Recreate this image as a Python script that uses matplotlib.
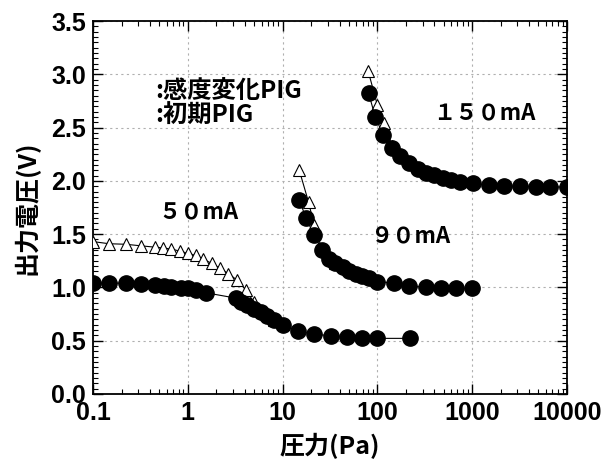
import numpy as np
import matplotlib.pyplot as plt
from matplotlib.ticker import MultipleLocator, LogLocator, FixedLocator, NullFormatter, FormatStrFormatter, FixedFormatter

# 50mA
p50_c = [0.1, 0.148, 0.221, 0.324, 0.448, 0.56, 0.67, 0.84, 1.0, 1.22, 1.55,
         3.2, 3.6, 4.2, 5.0, 5.9, 6.9, 8.1, 10.0, 14.5, 21.5, 32.5, 48, 68, 100, 220]
v50_c = [1.04, 1.04, 1.04, 1.035, 1.02, 1.01, 1.005, 0.995, 0.99, 0.975, 0.95,
         0.90, 0.865, 0.835, 0.80, 0.766, 0.734, 0.69, 0.65, 0.59, 0.56, 0.547, 0.537, 0.528, 0.522, 0.522]
p50_t = [0.1, 0.148, 0.221, 0.324, 0.448, 0.553, 0.672, 0.83, 1.0, 1.22, 1.46,
         1.79, 2.19, 2.67, 3.3, 4.1, 5.0, 6.0, 7.0, 8.2, 10.0]
v50_t = [1.43, 1.41, 1.405, 1.39, 1.378, 1.37, 1.36, 1.34, 1.32, 1.30, 1.265,
         1.225, 1.18, 1.13, 1.07, 0.975, 0.86, 0.78, 0.73, 0.69, 0.66]

# 90mA
p90_c = [15, 17.7, 21.5, 26, 31, 36, 43, 50, 59, 69, 81, 100, 150, 215, 325, 470, 680, 1000]
v90_c = [1.82, 1.65, 1.49, 1.35, 1.27, 1.225, 1.19, 1.155, 1.13, 1.107, 1.085, 1.055,
         1.04, 1.015, 1.0, 0.997, 0.99, 0.99]
p90_t = [15, 18.8, 21.5, 26, 31, 36]
v90_t = [2.10, 1.80, 1.585, 1.36, 1.28, 1.23]

# 150mA
p150_c = [81, 95, 115, 143, 175, 216, 266, 326, 400, 490, 600, 735, 1010,
          1490, 2180, 3200, 4700, 6700, 10000]
v150_c = [2.82, 2.60, 2.43, 2.31, 2.23, 2.165, 2.11, 2.075, 2.054, 2.03, 2.01, 1.99, 1.977,
          1.96, 1.95, 1.95, 1.945, 1.945, 1.94]
p150_t = [80, 100, 117, 143, 175]
v150_t = [3.03, 2.71, 2.545, 2.33, 2.24]

x_ticks = [0.1, 1, 10, 100, 1000, 10000]
x_labels = ['0.1', '1', '10', '100', '1000', '10000']

cjk = ['Noto Sans CJK JP', 'DejaVu Sans']
plt.rcParams['font.family'] = ['Liberation Sans', 'DejaVu Sans']

fig = plt.figure(figsize=(6.01, 4.71), dpi=100)
ax = fig.add_axes([0.1547, 0.1635, 0.7887, 0.7919])

for p, v in [(p50_t, v50_t), (p90_t, v90_t), (p150_t, v150_t)]:
    ax.plot(p, v, color='black', lw=0.8, marker='^', ms=9, mfc='white',
            mec='black', mew=0.8, zorder=3)
for p, v in [(p50_c, v50_c), (p90_c, v90_c), (p150_c, v150_c)]:
    ax.plot(p, v, color='black', lw=0.8, marker='o', ms=11, mfc='black',
            mec='black', zorder=4)

ax.set_xscale('log')
ax.set_xlim(0.1, 10000)
ax.set_ylim(0, 3.5)
ax.yaxis.set_major_locator(MultipleLocator(0.5))
ax.yaxis.set_minor_locator(MultipleLocator(0.05))
ax.yaxis.set_major_formatter(FormatStrFormatter('%.1f'))
ax.xaxis.set_major_locator(FixedLocator(x_ticks))
ax.xaxis.set_major_formatter(FixedFormatter(x_labels))
ax.xaxis.set_minor_locator(LogLocator(base=10, subs=np.arange(2, 10)))
ax.xaxis.set_minor_formatter(NullFormatter())

ax.tick_params(which='both', direction='in', top=True, right=True, color='black')
ax.tick_params(which='major', length=7, width=1.0, labelsize=18, pad=5)
ax.tick_params(which='minor', length=3.5, width=0.8)
for lab in ax.get_xticklabels() + ax.get_yticklabels():
    lab.set_fontweight('bold')

for s in ax.spines.values():
    s.set_linewidth(1.3)

ax.grid(True, which='major', color='#b0b0b0', ls=(0, (2, 3)), lw=0.8)

ax.set_xlabel('圧力(Pa)', family=cjk, fontsize=18, weight='bold', labelpad=6)
ax.set_ylabel('出力電圧(V)', family=cjk, fontsize=18, weight='bold', labelpad=8)

ax.text(0.45, 2.84, ':感度変化PIG', family=cjk, fontsize=17.5, weight='bold', va='center')
ax.text(0.45, 2.61, ':初期PIG', family=cjk, fontsize=17.5, weight='bold', va='center')
ax.text(1.29, 1.71, '５０mA', family=cjk, fontsize=16, weight='bold', ha='center', va='center')
ax.text(222, 1.48, '９０mA', family=cjk, fontsize=16, weight='bold', ha='center', va='center')
ax.text(1346, 2.64, '１５０mA', family=cjk, fontsize=16, weight='bold', ha='center', va='center')

fig.savefig('out.png', dpi=100)
